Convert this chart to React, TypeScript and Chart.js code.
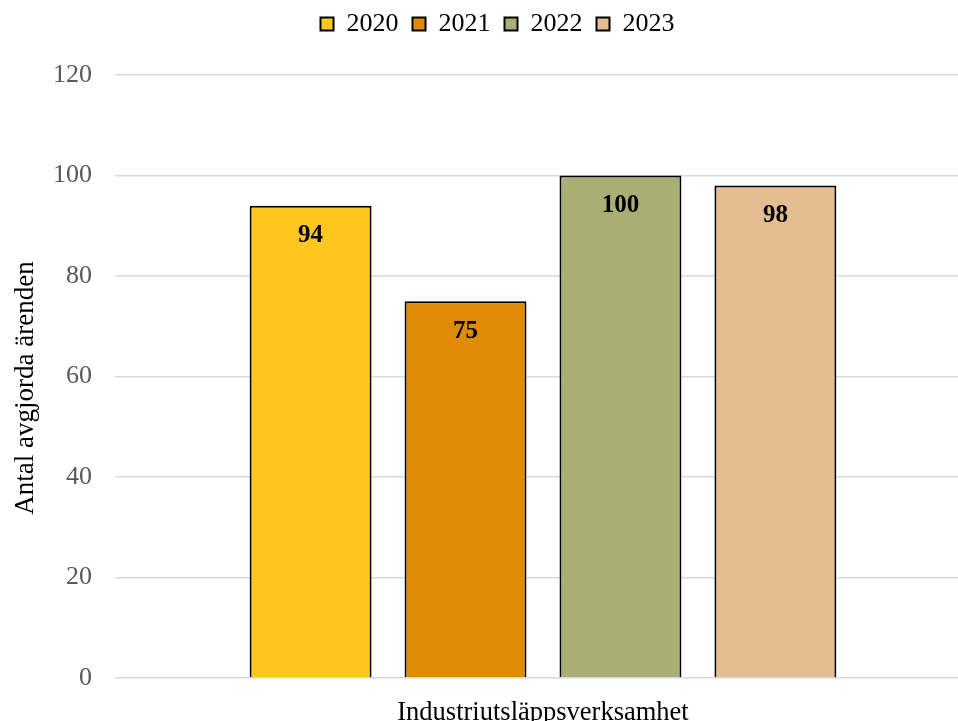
import React, { useEffect, useRef } from "react";
import { Chart, registerables } from "chart.js";

Chart.register(...registerables);

const categories = ["Industriutsläppsverksamhet"];
const years = ["2020", "2021", "2022", "2023"];
const values = [94, 75, 100, 98];
const colors = ["#FFC61E", "#E18B05", "#AAAE75", "#E4BD91"];
const yTicks = [0, 20, 40, 60, 80, 100, 120];
const yTitle = "Antal avgjorda ärenden";

const FONT = "'Liberation Serif', 'Times New Roman', serif";

const valueLabels = {
  id: "valueLabels",
  afterDatasetsDraw(chart: any) {
    const ctx = chart.ctx;
    ctx.save();
    ctx.font = `bold 25px ${FONT}`;
    ctx.fillStyle = "#000";
    ctx.textAlign = "center";
    ctx.textBaseline = "middle";
    chart.data.datasets.forEach((ds: any, i: number) => {
      const meta = chart.getDatasetMeta(i);
      meta.data.forEach((el: any, j: number) => {
        ctx.fillText(String(ds.data[j]), el.x, el.y + 30);
      });
    });
    ctx.restore();
  },
};

const yAxisTitle = {
  id: "yAxisTitle",
  afterDraw(chart: any) {
    const ctx = chart.ctx;
    const area = chart.chartArea;
    ctx.save();
    ctx.font = `27px ${FONT}`;
    ctx.fillStyle = "#000";
    ctx.textAlign = "center";
    ctx.textBaseline = "alphabetic";
    ctx.translate(33, (area.top + area.bottom) / 2 + 11.5);
    ctx.rotate(-Math.PI / 2);
    ctx.fillText(yTitle, 0, 0);
    ctx.restore();
  },
};

const legendHeight = {
  id: "legendHeight",
  beforeInit(chart: any) {
    if (!chart.legend) return;
    const fit = chart.legend.fit;
    chart.legend.fit = function () {
      fit.call(this);
      this.height = 78;
    };
  },
};

export default function App() {
  const ref = useRef<HTMLCanvasElement | null>(null);
  useEffect(() => {
    if (!ref.current) return;
    const chart = new Chart(ref.current, {
      type: "bar",
      data: {
        labels: categories,
        datasets: years.map((y, i) => ({
          label: y,
          data: [values[i]],
          backgroundColor: colors[i],
          borderColor: "#000",
          borderWidth: 2,
          categoryPercentage: 0.724,
          barPercentage: 0.787,
        })),
      },
      options: {
        animation: false,
        responsive: false,
        maintainAspectRatio: false,
        layout: { padding: { left: 24, right: 15, top: -3, bottom: 0 } },
        plugins: {
          legend: {
            position: "top",
            labels: {
              boxWidth: 13,
              boxHeight: 13,
              padding: 14,
              color: "#000",
              font: { family: FONT, size: 26 },
            },
          },
          tooltip: { enabled: false },
        },
        scales: {
          x: {
            grid: { display: false },
            border: { display: false },
            afterFit: (axis: any) => {
              axis.height = 51;
            },
            ticks: {
              color: "#000",
              padding: 11,
              maxRotation: 0,
              font: { family: FONT, size: 26.5 },
            },
          },
          y: {
            min: 0,
            max: 120,
            afterFit: (axis: any) => {
              axis.width = 91;
            },
            afterBuildTicks: (axis: any) => {
              axis.ticks = yTicks.map((v) => ({ value: v }));
            },
            grid: { color: "#D9D9D9", lineWidth: 1.5, drawTicks: false },
            border: { display: false },
            ticks: {
              color: "#595959",
              padding: 23,
              font: { family: FONT, size: 26 },
            },
          },
        },
      },
      plugins: [legendHeight, valueLabels, yAxisTitle],
    });
    return () => chart.destroy();
  }, []);
  return (
    <div
      style={{
        position: "fixed",
        left: 0,
        top: 0,
        width: 958,
        height: 721,
        overflow: "hidden",
        background: "#fff",
      }}
    >
      <canvas ref={ref} width={986} height={729} style={{ display: "block" }} />
    </div>
  );
}
